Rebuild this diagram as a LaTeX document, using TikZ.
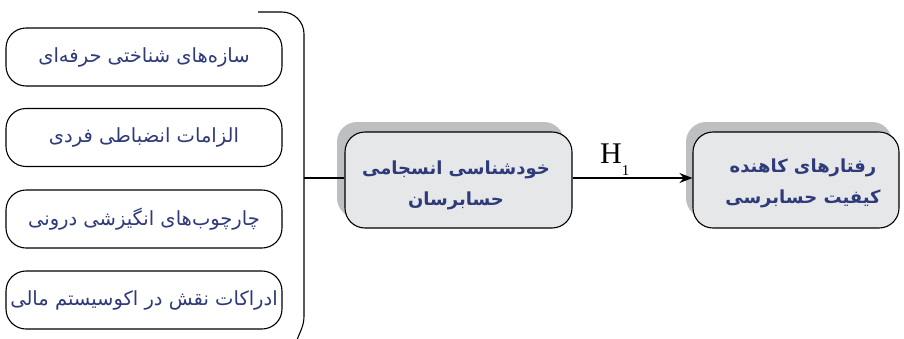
\documentclass[tikz,border=0pt]{standalone}
\usepackage{fontspec}
\usetikzlibrary{arrows.meta}
\TeXXeTstate=1
\newfontfamily\fafont[Script=Arabic]{DejaVu Sans}
\newfontfamily\hfont{Liberation Serif}
\definecolor{txtblue}{RGB}{46,58,122}
\definecolor{boxfill}{RGB}{230,231,233}
\definecolor{shadowgray}{RGB}{190,191,193}
\tikzset{
  factor/.style={draw=black, line width=1.1pt, rounded corners=20pt, fill=white,
    minimum width=276pt, minimum height=58pt, inner sep=0pt,
    text=txtblue, font=\fafont\fontsize{19.5}{22}\selectfont},
  mainbox/.style={draw=black, line width=1.1pt, rounded corners=20pt, fill=boxfill,
    inner sep=0pt, minimum height=96pt},
  maintext/.style={inner sep=0pt, text=txtblue, align=center,
    font=\fafont\bfseries\fontsize{18}{31}\selectfont},
  link/.style={line width=1.1pt}
}
\newcommand{\rtl}[1]{\beginR #1\endR}
\begin{document}
\begin{tikzpicture}[x=1pt,y=-1pt]
\useasboundingbox (0,0) rectangle (904,338);

% four factors on the left
\node[factor] (f1) at (144,57)  {\rtl{سازه‌های شناختی حرفه‌ای}};
\node[factor] (f2) at (144,137.5) {\rtl{الزامات انضباطی فردی}};
\node[factor] (f3) at (144,219) {\rtl{چارچوب‌های انگیزشی درونی}};
\node[factor] (f4) at (144,300) {\rtl{ادراکات نقش در اکوسیستم مالی}};

% brace that gathers the factors
\coordinate (btop) at (258,12);
\coordinate (bmid) at (304,178);
\draw[link] (btop) -- (282,12) to[out=0,in=90] (304,34) -- (304,316)
  to[out=-90,in=70] (297,340);

% shadows of the two main boxes
\fill[shadowgray, rounded corners=20pt] (337,122) rectangle (564,218);
\fill[shadowgray, rounded corners=20pt] (686,122) rectangle (892,218);

% main constructs
\node[mainbox, minimum width=227pt] (self) at (458.5,180) {};
\node[maintext] (selftxt) at (456,185) {\rtl{خودشناسی انسجامی}\\\rtl{حسابرسان}};
\node[mainbox, minimum width=206pt] (beh) at (796,180) {};
\node[maintext] (behtxt) at (803,183.5) {\rtl{رفتارهای کاهنده}\\\rtl{کیفیت حسابرسی}};

% connectors
\draw[link] (bmid) -- (self.west |- bmid);
\draw[link, -{Stealth[length=13pt,width=10pt]}] (self.east |- bmid) -- (beh.west |- bmid);

% hypothesis label
\node[anchor=base west, inner sep=0pt, font=\hfont\fontsize{30}{30}\selectfont] (h1)
  at (600,163) {H\raisebox{-12pt}{\fontsize{15}{15}\selectfont 1}};
\end{tikzpicture}
\end{document}
